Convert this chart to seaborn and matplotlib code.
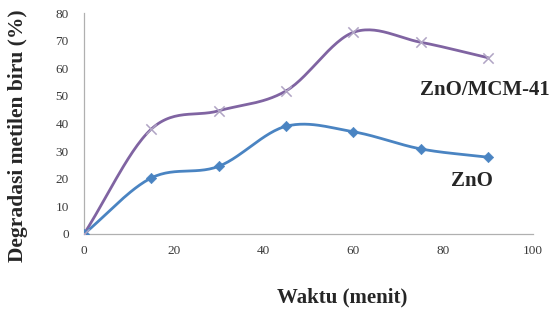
import numpy as np
import pandas as pd
import matplotlib.pyplot as plt
import seaborn as sns

# data
waktu = [0, 15, 30, 45, 60, 75, 90]
zno = [0, 20.3, 24.5, 39.0, 37.0, 30.8, 27.8]
zno_mcm = [0, 38.0, 44.6, 51.8, 73.0, 69.4, 63.8]

x_ticks = [0, 20, 40, 60, 80, 100]
y_ticks = [0, 10, 20, 30, 40, 50, 60, 70, 80]

BLUE = "#4A84C2"
PURPLE = "#8064A2"


def smooth(x, y, n=30):
    # Catmull-Rom style curve through the points (like excel "smoothed line")
    x = np.asarray(x, float)
    y = np.asarray(y, float)
    px = np.concatenate([[2 * x[0] - x[1]], x, [2 * x[-1] - x[-2]]])
    py = np.concatenate([[2 * y[0] - y[1]], y, [2 * y[-1] - y[-2]]])
    xs, ys = [], []
    for i in range(1, len(px) - 2):
        t = np.linspace(0, 1, n)
        for arr, out in ((px, xs), (py, ys)):
            p0, p1, p2, p3 = arr[i - 1], arr[i], arr[i + 1], arr[i + 2]
            out.extend(0.5 * ((2 * p1) + (-p0 + p2) * t
                              + (2 * p0 - 5 * p1 + 4 * p2 - p3) * t ** 2
                              + (-p0 + 3 * p1 - 3 * p2 + p3) * t ** 3))
    return np.array(xs), np.array(ys)


df = pd.DataFrame({
    "waktu": waktu * 2,
    "degradasi": zno + zno_mcm,
    "sampel": ["ZnO"] * len(waktu) + ["ZnO/MCM-41"] * len(waktu),
})

sns.set_style("white")
plt.rcParams["font.family"] = ["Liberation Serif", "DejaVu Serif"]

fig = plt.figure(figsize=(5.58, 3.11), dpi=100)
ax = fig.add_axes([84 / 558, 1 - 234 / 311, (533 - 84) / 558, (234 - 13) / 311])

for name, col in (("ZnO/MCM-41", PURPLE), ("ZnO", BLUE)):
    sub = df[df["sampel"] == name]
    sx, sy = smooth(sub["waktu"], sub["degradasi"])
    ax.plot(sx, sy, color=col, lw=2.0, zorder=2)

sns.scatterplot(data=df[df["sampel"] == "ZnO"], x="waktu", y="degradasi",
                marker="D", color=BLUE, s=28, edgecolor=BLUE, zorder=3, ax=ax)
sns.scatterplot(data=df[df["sampel"] == "ZnO/MCM-41"], x="waktu", y="degradasi",
                marker="x", color="#B0A4C4", s=55, linewidth=1.1, zorder=3, ax=ax)

ax.set_xlim(0, 100)
ax.set_ylim(0, 80)
ax.set_xticks(x_ticks)
ax.set_yticks(y_ticks)
ax.tick_params(axis="both", length=0, labelsize=9.5, labelcolor="#3a3a3a")
ax.tick_params(axis="x", pad=8)
ax.tick_params(axis="y", pad=11)
for s in ("top", "right"):
    ax.spines[s].set_visible(False)
for s in ("left", "bottom"):
    ax.spines[s].set_color("#b0b0b0")
    ax.spines[s].set_linewidth(0.9)
ax.set_xlabel("")
ax.set_ylabel("")

ax.text(89.3, 52, "ZnO/MCM-41", ha="center", va="center",
        fontsize=15, fontweight="bold")
ax.text(86.4, 19.2, "ZnO", ha="center", va="center",
        fontsize=15, fontweight="bold")

fig.text(18 / 558, 1 - 136 / 311, "Degradasi metilen biru (%)", rotation=90,
         ha="center", va="center", fontsize=15.5, fontweight="bold")
fig.text(342 / 558, 1 - 297 / 311, "Waktu (menit)", ha="center", va="center",
         fontsize=15, fontweight="bold")

fig.savefig("out.png", dpi=100)
